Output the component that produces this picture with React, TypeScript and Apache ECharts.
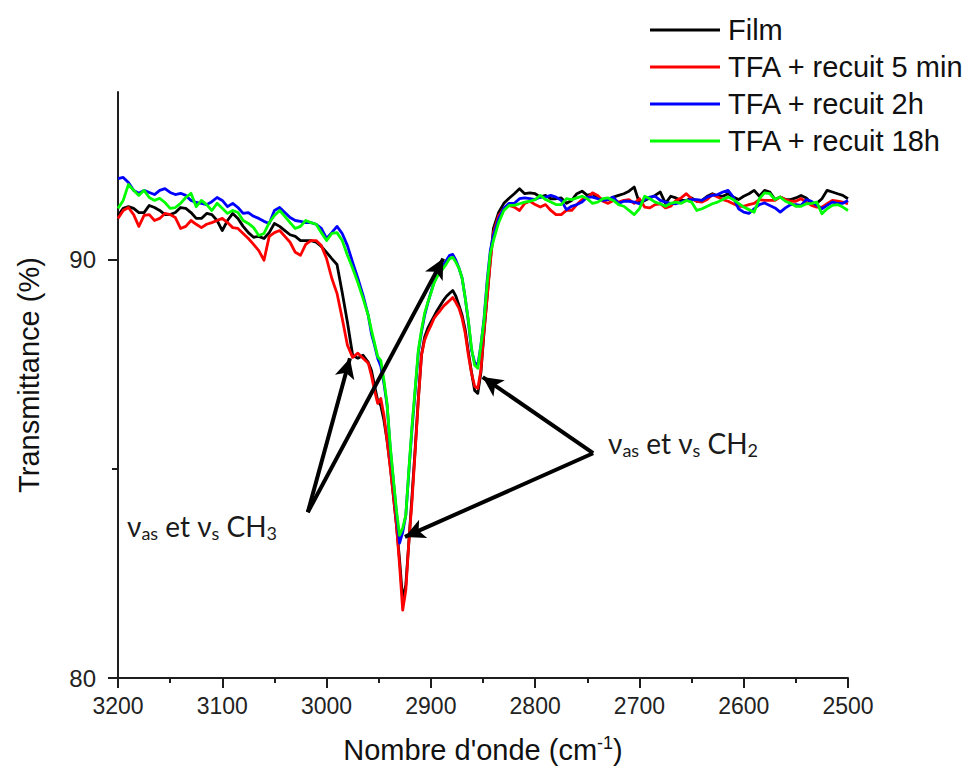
import React, { useEffect, useRef } from "react";
import * as echarts from "echarts";

// Wavenumbers (cm-1), shared by all four spectra
const wavenumbers = [
  3200, 3195, 3190, 3185, 3180, 3175, 3170, 3165, 3160, 3155, 3150, 3145, 3140, 3135, 3130, 3125, 3120, 3115, 3110, 3105,
  3100, 3095, 3090, 3085, 3080, 3075, 3070, 3065, 3060, 3055, 3050, 3045, 3040, 3035, 3030, 3025, 3020, 3015, 3010, 3005,
  3000, 2995, 2990, 2985, 2980, 2975, 2970, 2965, 2960,
  2957, 2954, 2951, 2948, 2945, 2942, 2939, 2936, 2933, 2930, 2927, 2924, 2921, 2918, 2915, 2912, 2909, 2906, 2903, 2900,
  2897, 2894, 2891, 2888, 2885, 2882, 2879, 2876, 2873, 2870, 2867, 2864, 2861, 2858, 2855, 2852, 2849, 2846, 2843,
  2840, 2835, 2830, 2825, 2820, 2815, 2810, 2805, 2800, 2795, 2790, 2785, 2780, 2775, 2770, 2765, 2760, 2755, 2750, 2745,
  2740, 2735, 2730, 2725, 2720, 2715, 2710, 2705, 2700, 2695, 2690, 2685, 2680, 2675, 2670, 2665, 2660, 2655, 2650, 2645,
  2640, 2635, 2630, 2625, 2620, 2615, 2610, 2605, 2600, 2595, 2590, 2585, 2580, 2575, 2570, 2565, 2560, 2555, 2550, 2545,
  2540, 2535, 2530, 2525, 2520, 2515, 2510, 2505, 2500,
];

// Transmittance (%) — Film
const film = [
  91.05, 91.22, 91.26, 91.22, 91.12, 91.12, 91.29, 91.24, 91.17, 91.07, 91.07, 91.12, 91.24, 91.22, 91.12, 90.98, 90.98, 91.10, 91.07, 90.93,
  90.69, 90.93, 91.10, 90.98, 90.79, 90.64, 90.53, 90.55, 90.50, 90.64, 90.86, 90.79, 90.69, 90.59, 90.55, 90.45, 90.45, 90.45, 90.41, 90.31,
  90.17, 90.02, 89.88, 89.21, 88.50, 87.71, 87.64, 87.71, 87.54,
  87.35, 86.99, 86.63, 86.51, 86.16, 85.68, 85.08, 84.37, 83.65, 82.82, 81.86, 82.22, 83.29, 84.37, 85.49, 86.68, 87.71, 88.14, 88.35, 88.50,
  88.64, 88.78, 88.90, 89.02, 89.12, 89.19, 89.26, 89.12, 88.90, 88.66, 88.31, 87.78, 87.30, 86.87, 86.80, 87.30, 88.26, 89.12, 89.98,
  90.74, 91.12, 91.34, 91.46, 91.57, 91.69, 91.57, 91.59, 91.57, 91.49, 91.53, 91.45, 91.45, 91.47, 91.34, 91.41, 91.57, 91.63, 91.53, 91.57,
  91.47, 91.43, 91.43, 91.49, 91.53, 91.57, 91.63, 91.73, 91.34, 91.41, 91.47, 91.53, 91.61, 91.34, 91.51, 91.47, 91.41, 91.41, 91.47, 91.39,
  91.41, 91.51, 91.57, 91.51, 91.51, 91.57, 91.49, 91.43, 91.51, 91.57, 91.65, 91.51, 91.65, 91.61, 91.43, 91.49, 91.43, 91.43, 91.47, 91.53,
  91.47, 91.34, 91.34, 91.45, 91.65, 91.61, 91.57, 91.53, 91.45,
];

// TFA + recuit 5 min
const tfa5min = [
  90.98, 91.17, 91.24, 91.07, 90.79, 91.05, 91.07, 90.93, 90.98, 91.10, 91.07, 91.00, 90.74, 90.79, 90.93, 90.84, 90.76, 90.84, 90.88, 90.93,
  90.98, 90.88, 90.76, 90.74, 90.62, 90.50, 90.36, 90.21, 89.98, 90.55, 90.64, 90.69, 90.55, 90.41, 90.17, 90.10, 90.36, 90.45, 90.45, 90.33,
  90.02, 89.55, 89.19, 88.59, 87.95, 87.66, 87.76, 87.64, 87.52,
  87.23, 86.87, 86.56, 86.68, 86.28, 85.68, 85.04, 84.37, 83.65, 82.70, 81.62, 82.10, 83.29, 84.25, 85.44, 86.63, 87.71, 88.07, 88.26, 88.42,
  88.59, 88.69, 88.78, 88.88, 88.95, 89.02, 89.09, 88.97, 88.83, 88.59, 88.23, 87.71, 87.28, 86.97, 86.92, 87.35, 88.31, 89.09, 89.93,
  90.64, 91.05, 91.22, 91.29, 91.25, 91.17, 91.34, 91.39, 91.31, 91.25, 91.31, 91.17, 91.07, 91.07, 91.17, 91.17, 91.31, 91.43, 91.47, 91.59,
  91.53, 91.39, 91.34, 91.41, 91.37, 91.41, 91.43, 91.34, 91.45, 91.25, 91.23, 91.31, 91.33, 91.23, 91.27, 91.41, 91.47, 91.57, 91.45, 91.39,
  91.37, 91.43, 91.55, 91.49, 91.43, 91.39, 91.33, 91.27, 91.27, 91.31, 91.34, 91.43, 91.41, 91.41, 91.41, 91.49, 91.43, 91.39, 91.39, 91.45,
  91.37, 91.29, 91.25, 91.25, 91.33, 91.41, 91.39, 91.37, 91.33,
];

// TFA + recuit 2h
const tfa2h = [
  91.93, 91.96, 91.84, 91.65, 91.58, 91.65, 91.60, 91.55, 91.65, 91.69, 91.60, 91.55, 91.58, 91.53, 91.41, 91.36, 91.34, 91.31, 91.38, 91.48,
  91.41, 91.26, 91.34, 91.24, 91.10, 91.12, 91.03, 90.98, 90.91, 90.86, 91.17, 91.24, 91.12, 91.00, 90.93, 90.91, 90.88, 90.88, 90.84, 90.74,
  90.50, 90.64, 90.79, 90.62, 90.33, 89.93, 89.55, 89.14, 88.66,
  88.23, 87.95, 87.64, 87.45, 87.04, 86.52, 85.51, 84.73, 83.94, 83.22, 83.48, 83.89, 84.96, 85.97, 86.87, 87.78, 88.26, 88.66, 88.95, 89.21,
  89.45, 89.62, 89.74, 89.86, 89.98, 90.10, 90.12, 89.98, 89.79, 89.55, 89.07, 88.50, 87.83, 87.54, 87.47, 87.95, 88.59, 89.50, 90.21,
  90.57, 90.98, 91.22, 91.34, 91.34, 91.45, 91.47, 91.45, 91.43, 91.49, 91.49, 91.53, 91.49, 91.41, 91.19, 91.27, 91.31, 91.37, 91.49, 91.49,
  91.45, 91.41, 91.43, 91.49, 91.34, 91.39, 91.39, 91.37, 91.33, 91.43, 91.49, 91.51, 91.41, 91.37, 91.34, 91.33, 91.37, 91.41, 91.43, 91.43,
  91.41, 91.49, 91.53, 91.55, 91.61, 91.65, 91.49, 91.21, 91.13, 91.10, 91.21, 91.31, 91.35, 91.29, 91.23, 91.13, 91.23, 91.31, 91.31, 91.29,
  91.43, 91.39, 91.29, 91.21, 91.29, 91.37, 91.34, 91.34, 91.41,
];

// TFA + recuit 18h
const tfa18h = [
  91.22, 91.41, 91.79, 91.65, 91.53, 91.65, 91.48, 91.41, 91.46, 91.36, 91.22, 91.24, 91.34, 91.48, 91.58, 91.26, 91.41, 91.31, 91.17, 91.34,
  91.22, 91.10, 91.17, 91.12, 90.93, 90.86, 90.76, 90.57, 90.62, 90.88, 91.05, 91.17, 91.03, 90.88, 90.74, 90.79, 90.93, 90.88, 90.84, 90.64,
  90.45, 90.62, 90.64, 90.45, 90.10, 89.79, 89.45, 89.07, 88.66,
  88.31, 88.00, 87.68, 87.59, 87.11, 86.56, 85.56, 84.77, 84.01, 83.41, 83.58, 83.89, 85.01, 86.04, 86.92, 87.83, 88.31, 88.71, 88.97, 89.19,
  89.43, 89.59, 89.69, 89.79, 89.90, 90.02, 90.05, 89.93, 89.79, 89.55, 89.07, 88.54, 87.88, 87.47, 87.40, 87.95, 88.54, 89.43, 90.14,
  90.45, 90.88, 91.17, 91.29, 91.29, 91.33, 91.37, 91.39, 91.43, 91.53, 91.43, 91.37, 91.31, 91.31, 91.45, 91.43, 91.47, 91.51, 91.45, 91.34,
  91.37, 91.45, 91.47, 91.41, 91.31, 91.27, 91.17, 91.07, 91.21, 91.51, 91.45, 91.37, 91.33, 91.27, 91.34, 91.37, 91.34, 91.41, 91.37, 91.17,
  91.21, 91.27, 91.33, 91.37, 91.43, 91.49, 91.43, 91.34, 91.25, 91.19, 91.13, 91.45, 91.59, 91.57, 91.43, 91.49, 91.39, 91.34, 91.27, 91.27,
  91.33, 91.34, 91.37, 91.09, 91.21, 91.29, 91.31, 91.25, 91.17,
];

const seriesNames = ["Film", "TFA + recuit 5 min", "TFA + recuit 2h", "TFA + recuit 18h"];
const seriesValues = [film, tfa5min, tfa2h, tfa18h];
const seriesColors = ["#000000", "#ff0000", "#0000ff", "#00ff00"];

// Axis ticks
const xMin = 2500;
const xMax = 3200;
const xInterval = 100;
const yMin = 80;
const yMax = 94;
const yMajorTicks = [80, 90];
const yMinorTicks = [85];

// Annotations (data coordinates: wavenumber, transmittance)
const ch3Origin = [3018, 83.96];
const ch3Targets = [
  [2977.6, 87.64],
  [2888.1, 90.02],
];
const ch2Origin = [2744.4, 85.37];
const ch2Targets = [
  [2850.3, 87.19],
  [2924.9, 83.37],
];

const AXIS_COLOR = "#1e1e1e";
const SANS = "'Liberation Sans', Arial, sans-serif";
const ANNOT = "Lato, 'Open Sans', sans-serif";

const annotRich = {
  g: { fontSize: 28, lineHeight: 32, fontFamily: ANNOT, fill: "#1a1a1a" },
  s: { fontSize: 18, lineHeight: 16, verticalAlign: "bottom", fontFamily: ANNOT, fill: "#1a1a1a" },
};

export default function App() {
  const ref = useRef<HTMLDivElement | null>(null);

  useEffect(() => {
    if (!ref.current) return;
    const chart = echarts.init(ref.current, null, { renderer: "svg" });

    const arrowData: any[] = [];
    ch3Targets.forEach((t) => arrowData.push([{ coord: ch3Origin }, { coord: t }]));
    ch2Targets.forEach((t) => arrowData.push([{ coord: ch2Origin }, { coord: t }]));

    const series: any[] = seriesNames.map((name, i) => ({
      type: "line",
      name,
      data: wavenumbers.map((w, j) => [w, seriesValues[i][j]]),
      showSymbol: false,
      symbol: "none",
      lineStyle: { width: 2.8, color: seriesColors[i], join: "round" },
      itemStyle: { color: seriesColors[i] },
      emphasis: { disabled: true },
      z: 2 + i,
    }));

    series.push({
      type: "line",
      name: "annotations",
      data: [],
      symbol: "none",
      z: 10,
      markLine: {
        silent: true,
        symbol: ["none", "arrow"],
        symbolSize: [15, 20],
        lineStyle: { color: "#000", width: 4, type: "solid" },
        label: { show: false },
        emphasis: { disabled: true },
        animation: false,
        z: 10,
        data: arrowData,
      },
    });

    chart.setOption({
      animation: false,
      backgroundColor: "#ffffff",
      grid: {
        left: 118,
        top: 92,
        width: 730,
        height: 586,
        containLabel: false,
        outerBoundsMode: "none",
      },
      legend: {
        data: seriesNames,
        orient: "vertical",
        left: 645,
        top: 10,
        itemWidth: 70,
        itemHeight: 3,
        itemGap: 7,
        icon: "rect",
        selectedMode: false,
        textStyle: {
          fontSize: 29,
          fontFamily: SANS,
          color: "#111",
          lineHeight: 30,
          padding: [0, 0, 0, 3],
        },
      },
      xAxis: {
        type: "value",
        min: xMin,
        max: xMax,
        interval: xInterval,
        inverse: true,
        axisLine: { show: true, onZero: false, lineStyle: { color: AXIS_COLOR, width: 2 } },
        axisTick: { show: true, length: 10, lineStyle: { color: AXIS_COLOR, width: 2 } },
        minorTick: { show: true, splitNumber: 2, length: 5, lineStyle: { color: AXIS_COLOR, width: 2 } },
        splitLine: { show: false },
        minorSplitLine: { show: false },
        axisLabel: {
          fontSize: 23,
          fontFamily: SANS,
          color: "#222",
          margin: 16,
          formatter: (v: number) => String(v),
        },
        name: "Nombre d'onde (cm{sup|-1})",
        nameLocation: "middle",
        nameGap: 56,
        nameTextStyle: {
          fontSize: 29,
          fontFamily: SANS,
          color: "#111",
          lineHeight: 32,
          rich: {
            sup: { fontSize: 18, lineHeight: 18, verticalAlign: "top", fontFamily: SANS, color: "#111" },
          },
        },
      },
      yAxis: [
        {
          type: "value",
          min: yMin,
          max: yMax,
          interval: 5,
          position: "left",
          axisLine: { show: true, onZero: false, lineStyle: { color: AXIS_COLOR, width: 2 } },
          axisTick: { show: true, customValues: yMajorTicks, length: 10, lineStyle: { color: AXIS_COLOR, width: 2 } },
          axisLabel: {
            customValues: yMajorTicks,
            fontSize: 24,
            fontFamily: SANS,
            color: "#222",
            margin: 22,
          },
          splitLine: { show: false },
          name: "Transmittance (%)",
          nameLocation: "middle",
          nameGap: 74,
          nameRotate: 90,
          nameTextStyle: {
            fontSize: 29,
            fontFamily: SANS,
            color: "#111",
            lineHeight: 30,
            padding: [0, 0, 0, 20],
          },
        },
        {
          type: "value",
          min: yMin,
          max: yMax,
          interval: 5,
          position: "left",
          offset: 0,
          axisLine: { show: false },
          axisTick: { show: true, customValues: yMinorTicks, length: 6, lineStyle: { color: AXIS_COLOR, width: 2 } },
          axisLabel: { show: false },
          splitLine: { show: false },
        },
      ],
      graphic: [
        {
          type: "text",
          x: 127,
          y: 526,
          z: 20,
          style: {
            text: "{g|ν}{s|as}{g| et ν}{s|s}{g| CH}{s|3}",
            align: "left",
            verticalAlign: "middle",
            rich: annotRich,
          },
        },
        {
          type: "text",
          x: 608,
          y: 443,
          z: 20,
          style: {
            text: "{g|ν}{s|as}{g| et ν}{s|s}{g| CH}{s|2}",
            align: "left",
            verticalAlign: "middle",
            rich: annotRich,
          },
        },
      ],
      series,
    });

    return () => {
      chart.dispose();
    };
  }, []);

  return (
    <div
      ref={ref}
      style={{ position: "fixed", left: 0, top: 0, width: 978, height: 776, background: "#fff" }}
    />
  );
}
